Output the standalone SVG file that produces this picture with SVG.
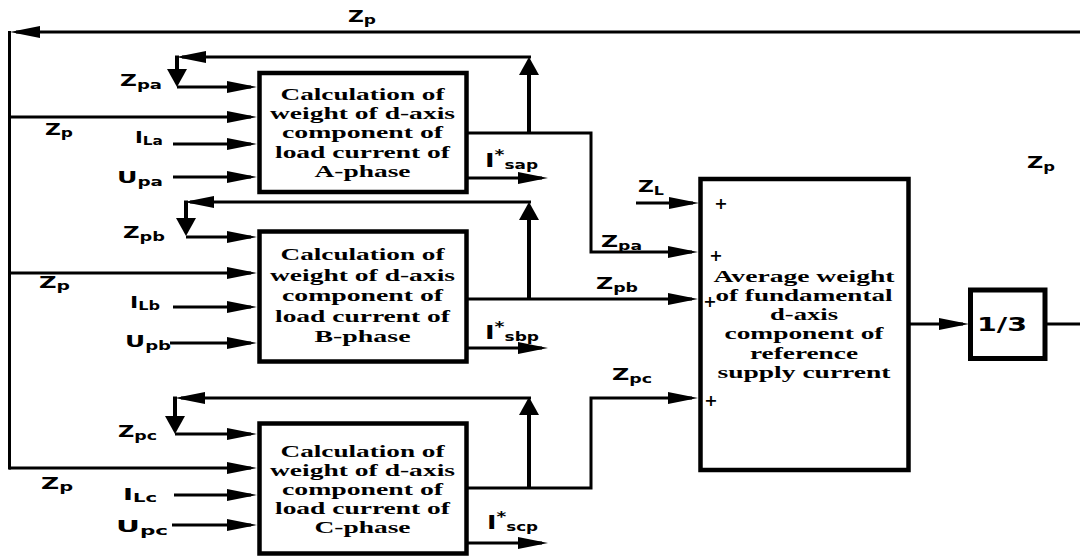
<svg xmlns="http://www.w3.org/2000/svg" width="1080" height="559" viewBox="0 0 1080 559">
<defs>
<marker id="ah" markerUnits="userSpaceOnUse" viewBox="0 0 30 12" refX="24" refY="6" markerWidth="30" markerHeight="12" orient="auto"><path d="M0,0 L30,6 L0,12 z" fill="#000"/></marker>
<marker id="av" markerUnits="userSpaceOnUse" viewBox="0 0 18 20" refX="14" refY="10" markerWidth="18" markerHeight="20" orient="auto"><path d="M0,0 L18,10 L0,20 z" fill="#000"/></marker>
</defs>
<style>
.w{fill:none;stroke:#000;stroke-width:3}
.t{stroke-width:4}
.a{marker-end:url(#ah)}
.v{marker-end:url(#av)}
.box{fill:#fff;stroke:#000;stroke-width:4.5}
.bt{font-family:"Liberation Serif","Times New Roman",serif;font-weight:bold;font-size:17.5px;text-anchor:middle}
.lb{font-family:"DejaVu Sans",Verdana,sans-serif;font-weight:bold;font-size:15.5px}
.bg{font-size:16.5px}
.s{font-size:12px}
.pl{font-family:"DejaVu Sans",Verdana,sans-serif;font-weight:bold;font-size:16px;text-anchor:middle}
</style>
<rect width="1080" height="559" fill="#fff"/>
<g id="connectors">
<path class="w" d="M9.5,31 V469.5"/>
<path class="w a" d="M1080,32 H16"/>
<path class="w a" d="M9,117 H251"/>
<path class="w a" d="M9,273 H251"/>
<path class="w a" d="M9,468 H251"/>
<path class="w a" d="M177,87 H251"/>
<path class="w a" d="M173,144 H251"/>
<path class="w a" d="M173,177 H251"/>
<path class="w a" d="M186,237 H251"/>
<path class="w a" d="M173,307 H251"/>
<path class="w a" d="M170,343 H251"/>
<path class="w a" d="M175,434 H251"/>
<path class="w a" d="M174,495 H251"/>
<path class="w a" d="M172,525 H251"/>
<path class="w t v" d="M529,133 V61"/>
<path class="w a" d="M531,57 H182"/>
<path class="w t v" d="M177,55.5 V83"/>
<path class="w t v" d="M529,299 V206"/>
<path class="w a" d="M531,202 H190"/>
<path class="w t v" d="M186,200.5 V232"/>
<path class="w t v" d="M529,488 V401"/>
<path class="w a" d="M531,398 H181"/>
<path class="w t v" d="M175,396.5 V430"/>
<path class="w a" d="M467,133 H591 V252 H692"/>
<path class="w a" d="M467,299 H692"/>
<path class="w a" d="M467,488 H591 V398 H692"/>
<path class="w a" d="M467,178 H542"/>
<path class="w a" d="M467,348 H542"/>
<path class="w a" d="M467,543 H542"/>
<path class="w a" d="M636,203 H693"/>
<path class="w a" d="M909,324 H963"/>
<path class="w" d="M1045,324 H1080"/>
</g>
<g id="nodeA">
<rect class="box" x="259.5" y="73" width="207" height="119"/>
<text class="bt" x="362.5" y="100" textLength="164" lengthAdjust="spacingAndGlyphs">Calculation of</text>
<text class="bt" x="362.5" y="119" textLength="185" lengthAdjust="spacingAndGlyphs">weight of d-axis</text>
<text class="bt" x="362.5" y="138" textLength="161" lengthAdjust="spacingAndGlyphs">component of</text>
<text class="bt" x="362.5" y="158" textLength="175" lengthAdjust="spacingAndGlyphs">load current of</text>
<text class="bt" x="362.5" y="177" textLength="96" lengthAdjust="spacingAndGlyphs">A-phase</text>
</g>
<g id="nodeB">
<rect class="box" x="259.5" y="231.5" width="207" height="130"/>
<text class="bt" x="362.5" y="260" textLength="164" lengthAdjust="spacingAndGlyphs">Calculation of</text>
<text class="bt" x="362.5" y="280.5" textLength="185" lengthAdjust="spacingAndGlyphs">weight of d-axis</text>
<text class="bt" x="362.5" y="301" textLength="161" lengthAdjust="spacingAndGlyphs">component of</text>
<text class="bt" x="362.5" y="321.5" textLength="175" lengthAdjust="spacingAndGlyphs">load current of</text>
<text class="bt" x="362.5" y="342" textLength="96" lengthAdjust="spacingAndGlyphs">B-phase</text>
</g>
<g id="nodeC">
<rect class="box" x="259.5" y="423.5" width="207" height="130"/>
<text class="bt" x="362.5" y="457" textLength="164" lengthAdjust="spacingAndGlyphs">Calculation of</text>
<text class="bt" x="362.5" y="476" textLength="185" lengthAdjust="spacingAndGlyphs">weight of d-axis</text>
<text class="bt" x="362.5" y="495" textLength="161" lengthAdjust="spacingAndGlyphs">component of</text>
<text class="bt" x="362.5" y="514" textLength="175" lengthAdjust="spacingAndGlyphs">load current of</text>
<text class="bt" x="362.5" y="533" textLength="96" lengthAdjust="spacingAndGlyphs">C-phase</text>
</g>
<g id="nodeAvg">
<rect class="box" x="700.5" y="179" width="208" height="291"/>
<text class="bt" x="804" y="282" textLength="181" lengthAdjust="spacingAndGlyphs">Average weight</text>
<text class="bt" x="804" y="301" textLength="177" lengthAdjust="spacingAndGlyphs">of fundamental</text>
<text class="bt" x="804" y="320" textLength="68" lengthAdjust="spacingAndGlyphs">d-axis</text>
<text class="bt" x="804" y="339" textLength="159" lengthAdjust="spacingAndGlyphs">component of</text>
<text class="bt" x="804" y="359" textLength="108" lengthAdjust="spacingAndGlyphs">reference</text>
<text class="bt" x="804" y="378" textLength="173" lengthAdjust="spacingAndGlyphs">supply current</text>
<text class="pl" x="721" y="209">+</text>
<text class="pl" x="716" y="261">+</text>
<text class="pl" x="710" y="307">+</text>
<text class="pl" x="711" y="406">+</text>
</g>
<g id="nodeThird">
<rect class="box" x="970.5" y="290" width="74.5" height="68.5" style="stroke-width:5"/>
<text class="lb" x="977" y="331" style="font-size:20px" textLength="50" lengthAdjust="spacingAndGlyphs">1/3</text>
</g>
<g id="labels" class="lb">
<text x="348" y="22" textLength="28" lengthAdjust="spacingAndGlyphs">Z<tspan class="s" dy="2">p</tspan></text>
<text x="120" y="86" textLength="42" lengthAdjust="spacingAndGlyphs">Z<tspan class="s" dy="3">pa</tspan></text>
<text x="45" y="135" textLength="28" lengthAdjust="spacingAndGlyphs">Z<tspan class="s" dy="2">p</tspan></text>
<text x="135" y="143" textLength="28" lengthAdjust="spacingAndGlyphs"><tspan class="bg">I</tspan><tspan class="s" dy="2">La</tspan></text>
<text x="117" y="183" textLength="46" lengthAdjust="spacingAndGlyphs"><tspan class="bg">U</tspan><tspan class="s" dy="3">pa</tspan></text>
<text x="123" y="238" textLength="42" lengthAdjust="spacingAndGlyphs">Z<tspan class="s" dy="3">pb</tspan></text>
<text x="39" y="288" textLength="31" lengthAdjust="spacingAndGlyphs">Z<tspan class="s" dy="2">p</tspan></text>
<text x="130" y="308" textLength="30" lengthAdjust="spacingAndGlyphs"><tspan class="bg">I</tspan><tspan class="s" dy="2">Lb</tspan></text>
<text x="125" y="347" textLength="46" lengthAdjust="spacingAndGlyphs"><tspan class="bg">U</tspan><tspan class="s" dy="3">pb</tspan></text>
<text x="118" y="437" textLength="39" lengthAdjust="spacingAndGlyphs">Z<tspan class="s" dy="3">pc</tspan></text>
<text x="41" y="489" textLength="32" lengthAdjust="spacingAndGlyphs">Z<tspan class="s" dy="2">p</tspan></text>
<text x="123" y="500" textLength="34" lengthAdjust="spacingAndGlyphs"><tspan class="bg">I</tspan><tspan class="s" dy="2">Lc</tspan></text>
<text x="116" y="532" textLength="52" lengthAdjust="spacingAndGlyphs"><tspan class="bg">U</tspan><tspan class="s" dy="3">pc</tspan></text>
<text x="485" y="167" textLength="53" lengthAdjust="spacingAndGlyphs"><tspan style="font-size:19px">I</tspan><tspan style="font-size:14px" dy="-8">*</tspan><tspan style="font-size:12.5px" dy="10">sap</tspan></text>
<text x="485" y="339" textLength="54" lengthAdjust="spacingAndGlyphs"><tspan style="font-size:19px">I</tspan><tspan style="font-size:14px" dy="-8">*</tspan><tspan style="font-size:12.5px" dy="10">sbp</tspan></text>
<text x="487" y="529" textLength="51" lengthAdjust="spacingAndGlyphs"><tspan style="font-size:19px">I</tspan><tspan style="font-size:14px" dy="-8">*</tspan><tspan style="font-size:12.5px" dy="10">scp</tspan></text>
<text x="638" y="192" textLength="26" lengthAdjust="spacingAndGlyphs"><tspan class="bg">Z</tspan><tspan class="s" dy="3">L</tspan></text>
<text x="601" y="247" textLength="41" lengthAdjust="spacingAndGlyphs"><tspan class="bg">Z</tspan><tspan class="s" dy="3">pa</tspan></text>
<text x="596" y="289" textLength="42" lengthAdjust="spacingAndGlyphs"><tspan class="bg">Z</tspan><tspan class="s" dy="3">pb</tspan></text>
<text x="612" y="380" textLength="40" lengthAdjust="spacingAndGlyphs"><tspan class="bg">Z</tspan><tspan class="s" dy="3">pc</tspan></text>
<text x="1027" y="168" textLength="28" lengthAdjust="spacingAndGlyphs"><tspan class="bg">Z</tspan><tspan class="s" dy="3">p</tspan></text>
</g>
</svg>
